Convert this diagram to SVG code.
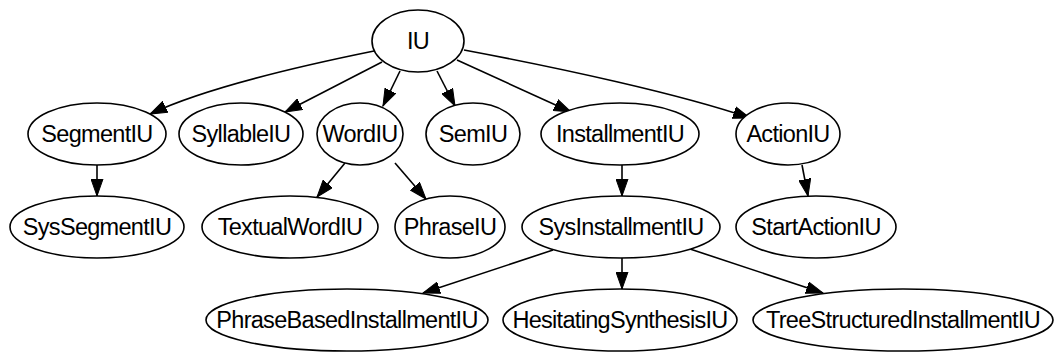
<svg xmlns="http://www.w3.org/2000/svg" width="1054" height="353" viewBox="0 0 1054 353">
  <style>
    .node ellipse { fill: #fff; stroke: #000; stroke-width: 1.6; }
    .node text { font-family: "Liberation Sans", Arial, sans-serif; font-size: 23.5px; letter-spacing: -0.7px; fill: #000; text-anchor: middle; }
    .edge { fill: none; stroke: #000; stroke-width: 1.6; marker-end: url(#arrow); }
  </style>
  <defs>
    <marker id="arrow" markerUnits="userSpaceOnUse" markerWidth="18" markerHeight="13" refX="17" refY="6.5" orient="auto">
      <path d="M0,0.5 L17,6.5 L0,12.5 z" fill="#000" stroke="#000" stroke-width="1"/>
    </marker>
  </defs>
  <rect width="1054" height="353" fill="#fff"/>

  <g id="connectors">
    <path class="edge" d="M374,51 C300,66 205,88 150,114"/>
    <path class="edge" d="M382,62 L285,112"/>
    <path class="edge" d="M400,71 L383,106"/>
    <path class="edge" d="M437,71 L455,106"/>
    <path class="edge" d="M457,60 L571,112"/>
    <path class="edge" d="M464,50 C560,68 680,94 750,118"/>
    <path class="edge" d="M97,165 L97,196"/>
    <path class="edge" d="M345,163 L317,197"/>
    <path class="edge" d="M395,163 L426,199"/>
    <path class="edge" d="M622,165 L622,196"/>
    <path class="edge" d="M802,165 L808,196"/>
    <path class="edge" d="M553,250 L423,293"/>
    <path class="edge" d="M622,258 L622,289"/>
    <path class="edge" d="M690,249 L823,293"/>
  </g>

  <g id="IU" class="node"><ellipse cx="418" cy="41" rx="46" ry="31"/><text x="418" y="49">IU</text></g>

  <g id="SegmentIU" class="node"><ellipse cx="97" cy="134" rx="69" ry="31"/><text x="97" y="142">SegmentIU</text></g>
  <g id="SyllableIU" class="node"><ellipse cx="241" cy="134" rx="62" ry="31"/><text x="241" y="142">SyllableIU</text></g>
  <g id="WordIU" class="node"><ellipse cx="360" cy="134" rx="43" ry="31"/><text x="360" y="142">WordIU</text></g>
  <g id="SemIU" class="node"><ellipse cx="473" cy="134" rx="47" ry="31"/><text x="473" y="142">SemIU</text></g>
  <g id="InstallmentIU" class="node"><ellipse cx="620" cy="134" rx="79" ry="31"/><text x="620" y="142">InstallmentIU</text></g>
  <g id="ActionIU" class="node"><ellipse cx="788" cy="134" rx="52" ry="31"/><text x="788" y="142">ActionIU</text></g>

  <g id="SysSegmentIU" class="node"><ellipse cx="97" cy="227" rx="87" ry="31"/><text x="97" y="235">SysSegmentIU</text></g>
  <g id="TextualWordIU" class="node"><ellipse cx="290" cy="227" rx="88" ry="31"/><text x="290" y="235">TextualWordIU</text></g>
  <g id="PhraseIU" class="node"><ellipse cx="450" cy="227" rx="55" ry="31"/><text x="450" y="235">PhraseIU</text></g>
  <g id="SysInstallmentIU" class="node"><ellipse cx="621" cy="227" rx="99" ry="31"/><text x="621" y="235">SysInstallmentIU</text></g>
  <g id="StartActionIU" class="node"><ellipse cx="816" cy="227" rx="80" ry="31"/><text x="816" y="235">StartActionIU</text></g>

  <g id="PhraseBasedInstallmentIU" class="node"><ellipse cx="347" cy="320" rx="141" ry="31"/><text x="347" y="328">PhraseBasedInstallmentIU</text></g>
  <g id="HesitatingSynthesisIU" class="node"><ellipse cx="620" cy="320" rx="117" ry="31"/><text x="620" y="328">HesitatingSynthesisIU</text></g>
  <g id="TreeStructuredInstallmentIU" class="node"><ellipse cx="903" cy="320" rx="150" ry="31"/><text x="903" y="328">TreeStructuredInstallmentIU</text></g>
</svg>
